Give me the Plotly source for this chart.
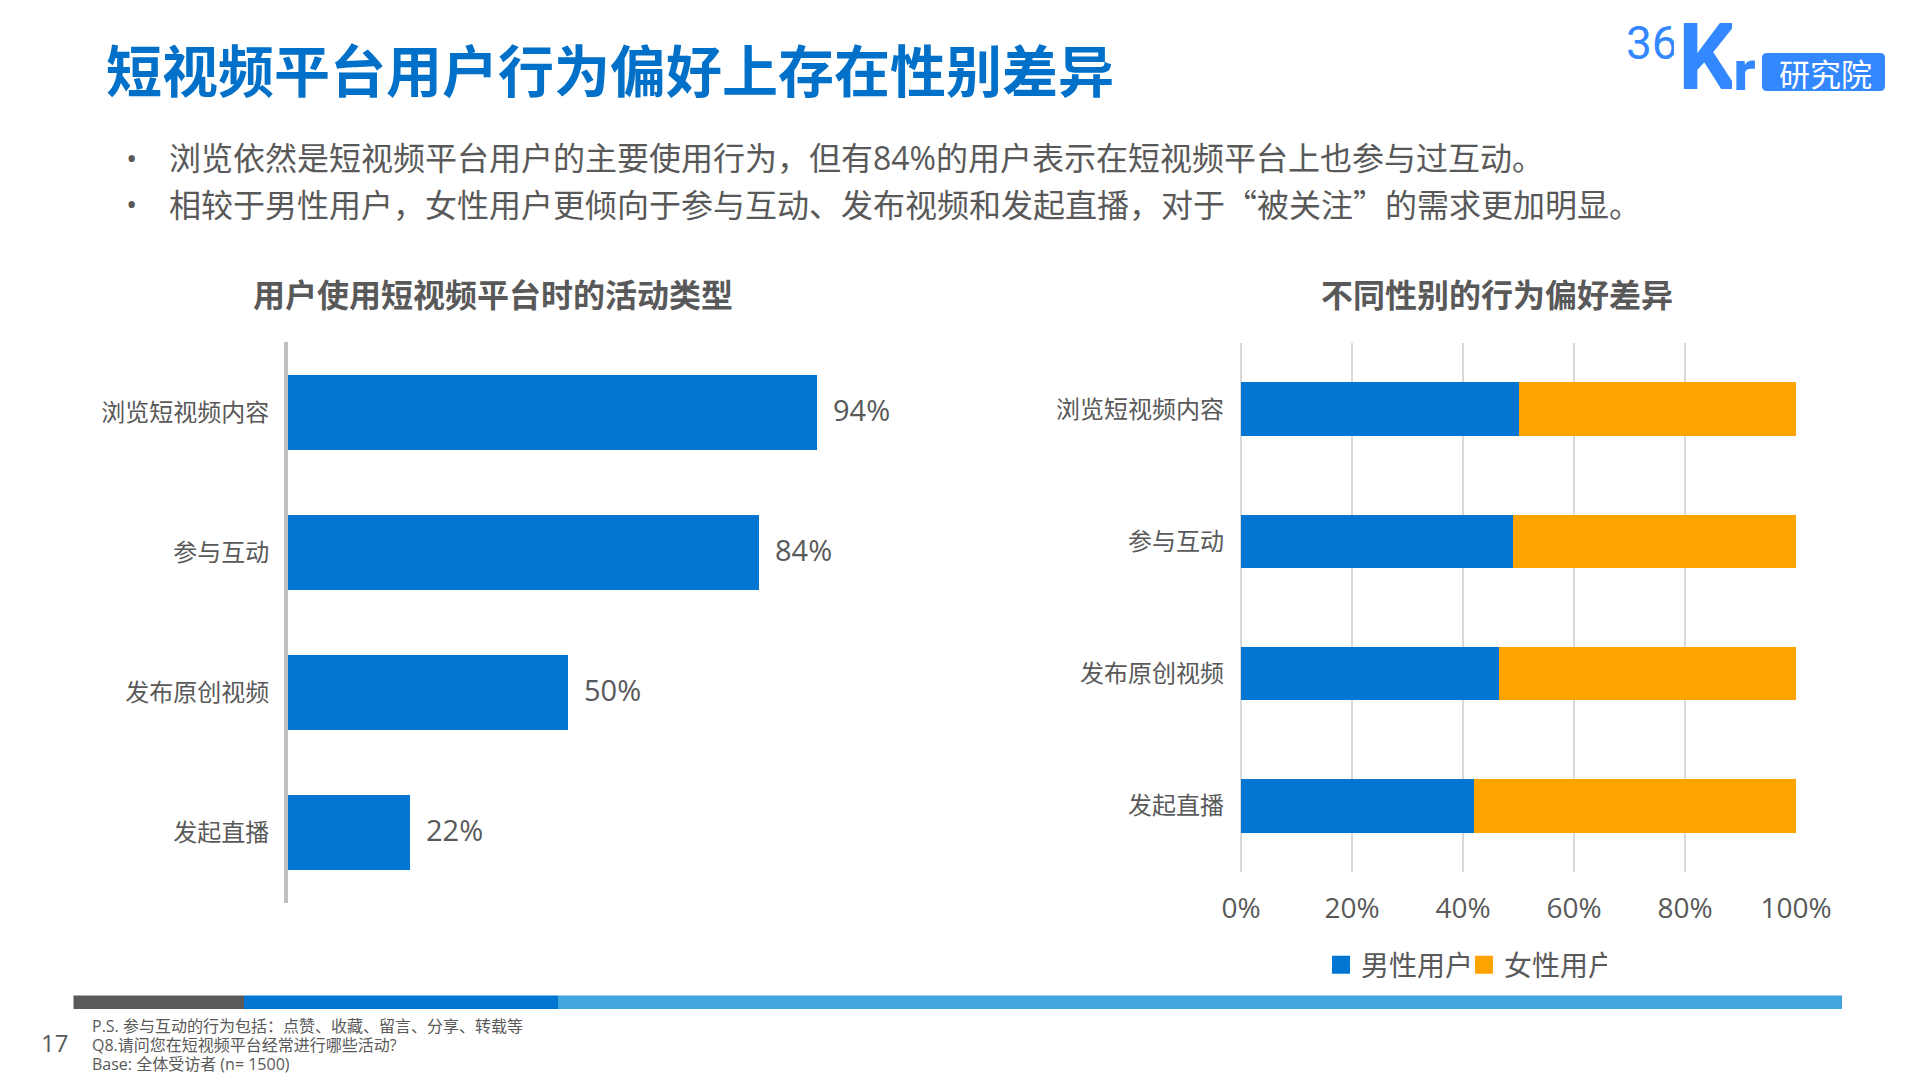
import plotly.graph_objects as go

categories = ["浏览短视频内容", "参与互动", "发布原创视频", "发起直播"]
activity_pct = [94, 83.7, 49.8, 21.6]
male_pct = [50, 49, 46.5, 42]
female_pct = [50, 51, 53.5, 58]
x_ticks = [0, 20, 40, 60, 80, 100]
x_tick_labels = ["0%", "20%", "40%", "60%", "80%", "100%"]

title = "短视频平台用户行为偏好上存在性别差异"
bullets = [
    "浏览依然是短视频平台用户的主要使用行为，但有84%的用户表示在短视频平台上也参与过互动。",
    "相较于男性用户，女性用户更倾向于参与互动、发布视频和发起直播，对于“被关注”的需求更加明显。",
]
chart_titles = ["用户使用短视频平台时的活动类型", "不同性别的行为偏好差异"]
footnotes = [
    "P.S. 参与互动的行为包括：点赞、收藏、留言、分享、转载等",
    "Q8.请问您在短视频平台经常进行哪些活动?",
    "Base: 全体受访者 (n= 1500)",
]

W, H = 1920, 1080
BLUE = "#0075D1"
ORANGE = "#FFA300"
GREY = "#595959"
LOGO = "#3388FF"
FONT = "Open Sans, Noto Sans CJK SC, sans-serif"
CJK = "Noto Sans CJK SC, sans-serif"
NARROW = "Liberation Sans Narrow, Roboto, sans-serif"


def px(x):
    return x / W


def py(y):
    return 1 - y / H


def text(x, y, s, size, color=GREY, anchor="left", family=FONT, weight=400, height=None, width=None):
    d = dict(xref="paper", yref="paper", x=px(x), y=py(y), text=s, showarrow=False,
             xanchor=anchor, yanchor="middle", align=anchor,
             font=dict(size=size, color=color, family=family, weight=weight))
    if height:
        d["height"] = height
    if width:
        d["width"] = width
    return d


fig = go.Figure()
fig.add_trace(go.Bar(y=categories, x=activity_pct, orientation="h", marker_color=BLUE,
                     width=0.536, showlegend=False, xaxis="x", yaxis="y",
                     hoverinfo="skip"))
fig.add_trace(go.Bar(y=categories, x=male_pct, orientation="h", marker_color=BLUE,
                     width=0.404, showlegend=False, xaxis="x2", yaxis="y2", name="男性用户"))
fig.add_trace(go.Bar(y=categories, x=female_pct, orientation="h", marker_color=ORANGE,
                     width=0.404, showlegend=False, xaxis="x2", yaxis="y2", name="女性用户"))
for name, col in (("男性用户", BLUE), ("女性用户", ORANGE)):
    fig.add_trace(go.Scatter(x=[None], y=[None], mode="markers", name=name, xaxis="x2", yaxis="y2",
                             marker=dict(symbol="square", size=16, color=col,
                                         line=dict(width=2, color=col))))

annotations = [
    text(104, 67.5, title, 56, "#0070C8", family=CJK, weight=700),
    text(124, 158, "•", 30),
    text(124, 203, "•", 30),
    text(167, 158, bullets[0], 32),
    text(167, 203, bullets[1], 32, family=CJK),
    text(493, 294.5, chart_titles[0], 32, weight=700, anchor="center"),
    text(1497, 294.5, chart_titles[1], 32, weight=700, anchor="center"),
    text(39, 1042, "17", 24),
    text(90, 1026, footnotes[0], 16, height=18),
    text(90, 1045, footnotes[1], 16, height=18),
    text(90, 1064, footnotes[2], 16, height=18),
    # logo wordmark
    text(1624, 43, "36", 46, LOGO, family=NARROW, height=38, width=48),
    text(1676, 57, "K", 92, LOGO, family=NARROW, weight=700, height=68, width=54),
    text(1731, 71, "r", 62, LOGO, family=NARROW, weight=700, height=38, width=22),
    text(1825, 72, "研究院", 31, "white", family=CJK, anchor="center", height=36),
]
for cat, v in zip(categories, activity_pct):
    annotations.append(dict(xref="x", yref="y", x=v, y=cat, text=f"{round(v)}%", showarrow=False,
                            xanchor="left", yanchor="middle", xshift=14, yshift=3,
                            font=dict(size=29, color=GREY, family=FONT)))

shapes = [
    dict(type="rect", xref="paper", yref="paper", x0=px(a), x1=px(b), y0=py(1009), y1=py(995.5),
         fillcolor=c, line_width=0, layer="below")
    for a, b, c in ((73.5, 244, GREY), (244, 558, BLUE), (558, 1842, "#41A5E0"))
]
# rounded badge behind the logo's 研究院
r_x, r_y = 5 / W, 5 / H
x0, x1, y0, y1 = px(1762), px(1885), py(91), py(53)
shapes.append(dict(type="path", xref="paper", yref="paper", fillcolor=LOGO, line_width=0, layer="below",
                   path=(f"M {x0 + r_x} {y0} L {x1 - r_x} {y0} Q {x1} {y0} {x1} {y0 + r_y} "
                         f"L {x1} {y1 - r_y} Q {x1} {y1} {x1 - r_x} {y1} "
                         f"L {x0 + r_x} {y1} Q {x0} {y1} {x0} {y1 - r_y} "
                         f"L {x0} {y0 + r_y} Q {x0} {y0} {x0 + r_x} {y0} Z")))

fig.update_layout(
    template="none",
    width=W, height=H, margin=dict(l=0, r=0, t=0, b=0, pad=0, autoexpand=False), autosize=False,
    paper_bgcolor="white", plot_bgcolor="white", barmode="stack",
    font=dict(family=FONT, color=GREY),
    annotations=annotations, shapes=shapes,
    xaxis=dict(domain=[px(288), px(888)], range=[0, 600 / 5.63], visible=False, automargin=False),
    yaxis=dict(domain=[py(903), py(342)], categoryorder="array", categoryarray=categories,
               autorange="reversed", showline=True, linecolor="#BFBFBF", linewidth=4, ticks="",
               ticklabelstandoff=10, tickfont=dict(size=24, color=GREY), showgrid=False, anchor="x",
               automargin=False),
    xaxis2=dict(domain=[px(1241), px(1796)], range=[0, 100], tickvals=x_ticks, ticktext=x_tick_labels,
                showgrid=True, gridcolor="#D9D9D9", gridwidth=2, zeroline=True, zerolinecolor="#D9D9D9",
                zerolinewidth=2, ticks="", tickfont=dict(size=28, color=GREY), ticklabelstandoff=17,
                anchor="y2", showline=False, automargin=False),
    yaxis2=dict(domain=[py(872), py(343)], categoryorder="array", categoryarray=categories,
                autorange="reversed", showline=False, ticks="", ticklabelstandoff=16,
                tickfont=dict(size=24, color=GREY), showgrid=False, anchor="x2", automargin=False),
    legend=dict(orientation="h", xref="container", yref="container", x=px(1321), y=py(965),
                xanchor="left", yanchor="middle", traceorder="normal", entrywidth=98, entrywidthmode="pixels",
                font=dict(size=28, color=GREY), bgcolor="rgba(0,0,0,0)", itemclick=False, itemdoubleclick=False),
)

fig.write_html("out.html", config={"displayModeBar": False},
               post_script="document.body.style.margin='0';document.body.style.overflow='hidden';")
